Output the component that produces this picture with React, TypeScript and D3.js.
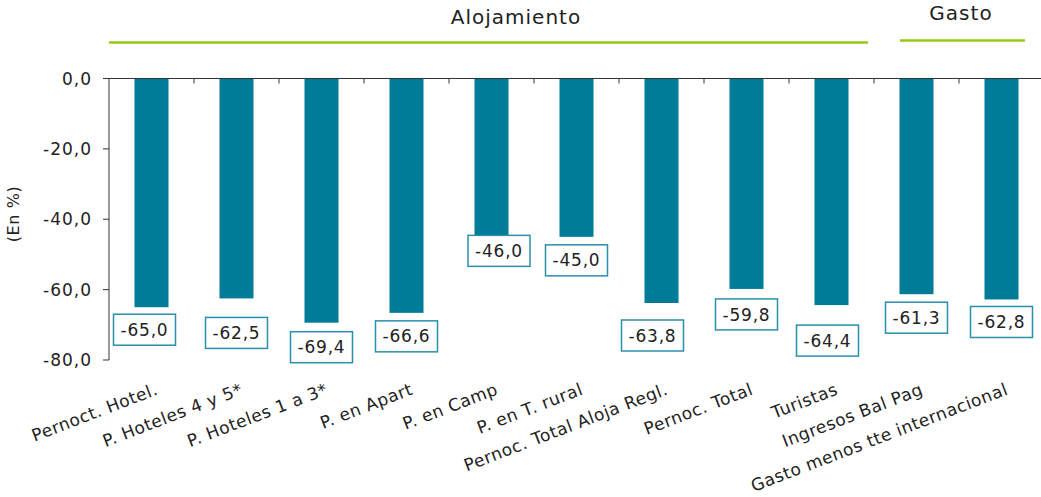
import React from "react";
import * as d3 from "d3";

const categories = [
  "Pernoct. Hotel.",
  "P. Hoteles 4 y 5*",
  "P. Hoteles 1 a 3*",
  "P. en Apart",
  "P. en Camp",
  "P. en T. rural",
  "Pernoc. Total Aloja Regl.",
  "Pernoc. Total",
  "Turistas",
  "Ingresos Bal Pag",
  "Gasto menos tte internacional",
];
const values = [-65.0, -62.5, -69.4, -66.6, -46.0, -45.0, -63.8, -59.8, -64.4, -61.3, -62.8];
const yTicks = [0, -20, -40, -60, -80];
const groupNames = ["Alojamiento", "Gasto"];
const groupFirst = [0, 9];
const groupLast = [8, 10];
// manual label box offsets (as placed in the original)
const labelDx = [-7, 0, 0, 0, 7.5, 0, -9, 0, -4, 0, 0];
const labelDy = [7, 19, 9, 8, -5, 8, 17, 10, 20, 8, 7];

const W = 1041;
const H = 497;
const FONT = "'DejaVu Sans', sans-serif";
const BAR = "#007b98";
const GREEN = "#99c814";
const TEXT = "#222222";

const fmt = (v: number) => v.toFixed(1).replace(".", ",");

export default function App() {
  const x = d3.scaleBand<string>().domain(categories).range([109, 1044]).padding(0);
  const y = d3.scaleLinear().domain([-80, 0]).range([360, 78.5]);
  const bw = x.bandwidth() * 0.4;
  const boxW = 62;
  const boxH = 31;

  const groupX1 = [x(categories[groupFirst[0]])!, x(categories[groupFirst[1]])! + 26];
  const groupX2 = [x(categories[groupLast[0]])! + x.bandwidth() - 6, x(categories[groupLast[1]])! + x.bandwidth() - 19];
  const groupTextX = [516, 961];
  const groupTextY = [24, 20];
  const groupLineY = [42.5, 40.5];

  return (
    <svg width={W} height={H} style={{ position: "absolute", left: 0, top: 0, background: "#fff" }} fontFamily={FONT}>
      {groupNames.map((g, i) => (
        <g key={g}>
          <line x1={groupX1[i]} x2={groupX2[i]} y1={groupLineY[i]} y2={groupLineY[i]} stroke={GREEN} strokeWidth={2.5} />
          <text x={groupTextX[i]} y={groupTextY[i]} textAnchor="middle" fontSize={20} letterSpacing={1} fill={TEXT}>{g}</text>
        </g>
      ))}

      {/* y axis */}
      <line x1={109} x2={109} y1={y(0)} y2={y(-80)} stroke="#333" strokeWidth={1} />
      {yTicks.map((t) => (
        <g key={t}>
          <line x1={103} x2={109} y1={y(t)} y2={y(t)} stroke="#333" />
          <text x={92} y={y(t)} dy="0.36em" textAnchor="end" fontSize={17} letterSpacing={1} fill={TEXT}>{fmt(t)}</text>
        </g>
      ))}
      <text transform={`translate(19,${214}) rotate(-90)`} textAnchor="middle" fontSize={16} letterSpacing={0.6} fill={TEXT}>(En %)</text>

      {/* bars */}
      {categories.map((c, i) => {
        const cx = x(c)! + x.bandwidth() / 2;
        return (
          <rect key={c} x={cx - bw / 2} y={y(0)} width={bw} height={y(values[i]) - y(0)} fill={BAR} />
        );
      })}

      {/* x axis line & ticks */}
      <line x1={109} x2={1044} y1={y(0)} y2={y(0)} stroke="#333" strokeWidth={1.2} />
      {categories.map((c) => (
        <line key={c} x1={x(c)! + x.bandwidth()} x2={x(c)! + x.bandwidth()} y1={y(0)} y2={y(0) + 5} stroke="#333" />
      ))}

      {/* value labels */}
      {categories.map((c, i) => {
        const cx = x(c)! + x.bandwidth() / 2 + labelDx[i];
        const top = y(values[i]) + labelDy[i];
        return (
          <g key={c}>
            <rect x={cx - boxW / 2} y={top} width={boxW} height={boxH} fill="#fff" stroke="#2a8faa" strokeWidth={1.5} />
            <text x={cx} y={top + boxH / 2} dy="0.36em" textAnchor="middle" fontSize={17} letterSpacing={0.8} fill={TEXT}>{fmt(values[i])}</text>
          </g>
        );
      })}

      {/* category labels */}
      {categories.map((c) => {
        const cx = x(c)! + x.bandwidth() / 2;
        return (
          <text key={c} transform={`translate(${cx + 3},${382}) rotate(-21)`} textAnchor="end" dy="0.75em" fontSize={17} letterSpacing={0.55} fill={TEXT}>{c}</text>
        );
      })}
    </svg>
  );
}
